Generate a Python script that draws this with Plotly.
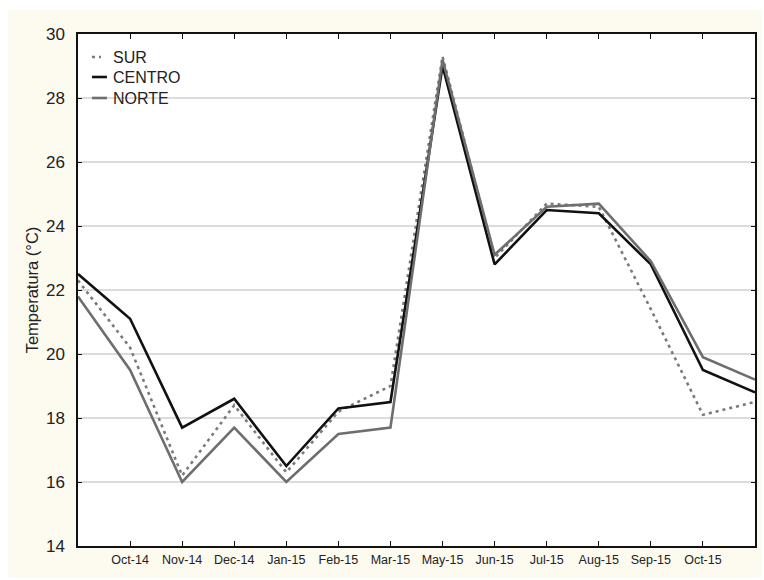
import plotly.graph_objects as go

# Monthly mean temperature by zone (°C); index 0 = Sep-14 ... 13 = Nov-15
tick_labels = ["Oct-14", "Nov-14", "Dec-14", "Jan-15", "Feb-15", "Mar-15",
               "May-15", "Jun-15", "Jul-15", "Aug-15", "Sep-15", "Oct-15"]
sur = [22.3, 20.2, 16.2, 18.4, 16.3, 18.2, 19.0, 29.3, 23.0, 24.7, 24.6, 21.4, 18.1, 18.5]
centro = [22.5, 21.1, 17.7, 18.6, 16.5, 18.3, 18.5, 29.0, 22.8, 24.5, 24.4, 22.8, 19.5, 18.8]
norte = [21.8, 19.5, 16.0, 17.7, 16.0, 17.5, 17.7, 29.2, 23.1, 24.6, 24.7, 22.9, 19.9, 19.2]

x = list(range(len(centro)))
tick_pos = list(range(1, len(tick_labels) + 1))

FONT = "Liberation Sans, Arial, sans-serif"
TXT = "#222222"
CREAM = "#FDFAF0"

series = [
    ("SUR", sur, dict(color="#7a7a7a", width=2.6, dash="3px,4px")),
    ("CENTRO", centro, dict(color="#111111", width=2.6)),
    ("NORTE", norte, dict(color="#6e6e6e", width=2.6)),
]

fig = go.Figure()
for name, vals, line in series:
    fig.add_trace(go.Scatter(x=x, y=vals, mode="lines", name=name, line=line,
                             showlegend=False))

# Plot area geometry (px) used to place the hand-drawn legend
L, R, T, B, W, H = 78, 7, 34, 34, 764, 580
pw, ph = W - L - R, H - T - B

def px_x(p):
    return (p - L) / pw

def px_y(p):
    return (H - B - p) / ph

shapes = [
    # cream panel behind the chart, white plotting area on top of it
    dict(type="rect", xref="paper", yref="paper", layer="below",
         x0=px_x(8), x1=px_x(764), y0=px_y(578), y1=px_y(10),
         fillcolor=CREAM, line=dict(width=0)),
    dict(type="rect", xref="paper", yref="paper", layer="below",
         x0=0, x1=1, y0=0, y1=1,
         fillcolor="white", line=dict(width=0)),
]
annotations = []
legend_rows = [57, 77, 98]
for (name, _, line), row in zip(series, legend_rows):
    x_end = 101 if name == "SUR" else 107
    shapes.append(dict(type="line", xref="paper", yref="paper",
                       x0=px_x(92), x1=px_x(x_end), y0=px_y(row), y1=px_y(row),
                       line=line))
    annotations.append(dict(xref="paper", yref="paper", x=px_x(111), y=px_y(row),
                            xanchor="left", yanchor="middle", showarrow=False,
                            text=name, font=dict(family=FONT, size=16, color=TXT)))

fig.update_layout(
    width=W, height=H,
    margin=dict(l=L, r=R, t=T, b=B),
    paper_bgcolor="white",
    plot_bgcolor="white",
    shapes=shapes,
    annotations=annotations,
    font=dict(family=FONT, color=TXT),
)

fig.update_xaxes(
    range=[0, len(centro) - 1],
    tickvals=tick_pos, ticktext=tick_labels,
    tickfont=dict(family=FONT, size=12.5, color=TXT),
    ticks="inside", ticklen=5, tickcolor="#111", tickwidth=1,
    showline=True, linecolor="#111", linewidth=1.5, mirror="ticks",
    showgrid=False, zeroline=False,
    ticklabelstandoff=1,
)
fig.update_yaxes(
    range=[14, 30], tick0=14, dtick=2,
    tickfont=dict(family=FONT, size=17, color=TXT),
    ticks="inside", ticklen=4, tickcolor="#111", tickwidth=1,
    showline=True, linecolor="#111", linewidth=1.5, mirror="ticks",
    showgrid=True, gridcolor="#dcdcdc", gridwidth=1.5,
    zeroline=False,
    ticklabelstandoff=8,
    title=dict(text="Temperatura (°C)", font=dict(family=FONT, size=16.5, color=TXT),
               standoff=3),
)

fig.write_html("out.html")
